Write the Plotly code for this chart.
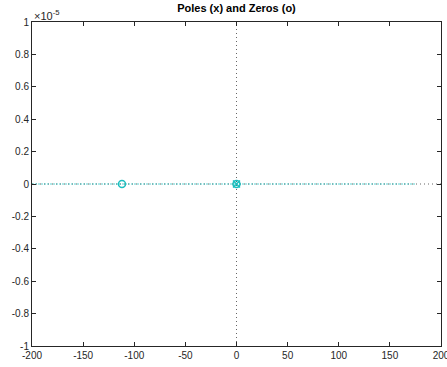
import plotly.graph_objects as go

# Data
zeros_re = [-112, 0]
zeros_im = [0, 0]
poles_re = [0]
poles_im = [0]
line_x = [-200, 175]
line_y = [0, 0]
x_ticks = [-200, -150, -100, -50, 0, 50, 100, 150, 200]
y_ticks_scaled = [-1, -0.8, -0.6, -0.4, -0.2, 0, 0.2, 0.4, 0.6, 0.8, 1]
y_tick_labels = ["-1", "-0.8", "-0.6", "-0.4", "-0.2", "0", "0.2", "0.4", "0.6", "0.8", "1"]
scale = 1e-5

cyan = "#19bfbf"
fig = go.Figure()

# reference axes (dotted)
fig.add_trace(go.Scatter(x=[-200, 200], y=[0, 0], mode="lines",
                         line=dict(color="#666666", width=1, dash="1px,3px"), showlegend=False, hoverinfo="skip"))
fig.add_trace(go.Scatter(x=[0, 0], y=[-scale, scale], mode="lines",
                         line=dict(color="#666666", width=1, dash="1px,3px"), showlegend=False, hoverinfo="skip"))
fig.add_trace(go.Scatter(x=line_x, y=line_y, mode="lines",
                         line=dict(color=cyan, width=1.2, dash="2px,1px"), opacity=0.7, showlegend=False))
fig.add_trace(go.Scatter(x=zeros_re, y=zeros_im, mode="markers",
                         marker=dict(symbol="circle-open", size=7, color=cyan, line=dict(width=1.5, color=cyan)),
                         showlegend=False))
fig.add_trace(go.Scatter(x=poles_re, y=poles_im, mode="markers",
                         marker=dict(symbol="x-thin-open", size=7, color=cyan, line=dict(width=1.5, color=cyan)),
                         showlegend=False))

axis_common = dict(showgrid=False, zeroline=False, showline=True, linecolor="#262626", linewidth=1,
                   mirror="ticks", ticks="inside", ticklen=4, tickcolor="#262626", automargin=False,
                   tickfont=dict(family="Liberation Sans, Arial", size=10, color="#262626"))

fig.update_layout(
    width=447, height=367,
    margin=dict(l=32, r=6, t=22, b=21),
    plot_bgcolor="white", paper_bgcolor="white",
    title=dict(text="<b>Poles (x) and Zeros (o)</b>", x=0.5, xanchor="center", xref="paper",
               y=1, yref="container", yanchor="top", pad=dict(t=4),
               font=dict(family="Liberation Sans, Arial", size=11, color="#000000")),
    xaxis=dict(range=[-200, 200], tickvals=x_ticks, ticktext=[str(v) for v in x_ticks],
               ticklabeloverflow="allow", **axis_common),
    yaxis=dict(range=[-scale, scale], tickvals=[v * scale for v in y_ticks_scaled],
               ticktext=y_tick_labels, **axis_common),
    annotations=[dict(text="×10<sup>-5</sup>", xref="paper", yref="paper", x=0, y=1,
                      xanchor="left", yanchor="bottom", showarrow=False, yshift=-2,
                      font=dict(family="Liberation Sans, Arial", size=11, color="#262626"))],
)

fig.write_html("out.html")
